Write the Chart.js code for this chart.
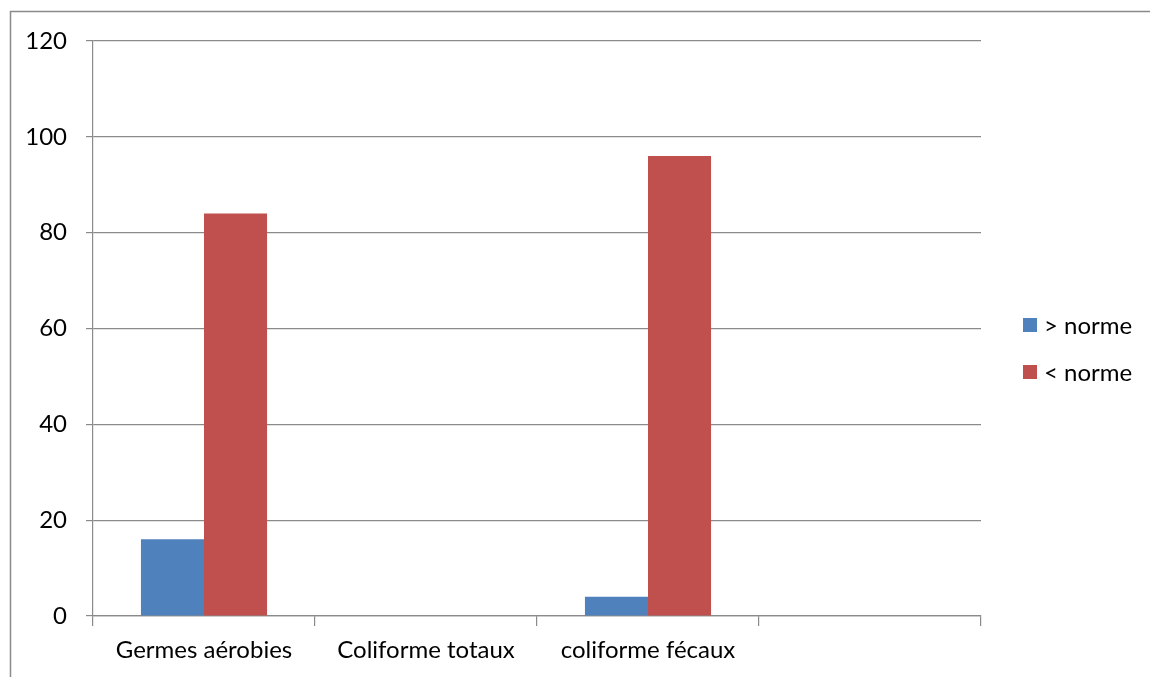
<!DOCTYPE html>
<html>
<head>
<meta charset="utf-8">
<script src="https://cdn.jsdelivr.net/npm/chart.js@4/dist/chart.umd.min.js"></script>
<style>
  html, body { margin: 0; padding: 0; background: #fff; }
  #wrap { position: relative; width: 1150px; height: 677px; overflow: hidden; }
  canvas { display: block; }
</style>
</head>
<body>
<div id="wrap"><canvas id="c" width="1150" height="677"></canvas></div>
<script>
// Categories and series
const categories = ["Germes aérobies", "Coliforme totaux", "coliforme fécaux", ""];
const aboveNorm = [16, 0, 4, null];
const belowNorm = [84, 0, 96, null];
const seriesNames = ["> norme", "< norme"];
const yTicks = [0, 20, 40, 60, 80, 100, 120];

const FONT = "Lato, 'Open Sans', sans-serif";
const GRID = "#8a8a8a";

// Outer frame and right-hand legend
const framePlugin = {
  id: "frameAndLegend",
  afterDraw(chart) {
    const ctx = chart.ctx;
    ctx.save();
    ctx.strokeStyle = GRID;
    ctx.lineWidth = 1.5;
    ctx.beginPath();
    ctx.moveTo(10.5, 700);
    ctx.lineTo(10.5, 11.5);
    ctx.lineTo(1200, 11.5);
    ctx.stroke();

    const ds = chart.data.datasets;
    ctx.font = "24px " + FONT;
    ctx.textBaseline = "middle";
    ctx.textAlign = "left";
    ds.forEach((d, i) => {
      const y = 325 + i * 47;
      ctx.fillStyle = d.backgroundColor;
      ctx.fillRect(1023, y - 7, 14, 14);
      ctx.fillStyle = "#000";
      ctx.fillText(d.label, 1044, y + 1);
    });
    ctx.restore();
  }
};

new Chart(document.getElementById("c"), {
  type: "bar",
  data: {
    labels: categories,
    datasets: [
      { label: seriesNames[0], data: aboveNorm, backgroundColor: "#4F81BD", borderWidth: 0 },
      { label: seriesNames[1], data: belowNorm, backgroundColor: "#C0504D", borderWidth: 0 }
    ]
  },
  options: {
    responsive: false,
    animation: false,
    devicePixelRatio: 1,
    layout: { padding: { left: 0, top: 41, right: 169, bottom: 0 } },
    datasets: { bar: { categoryPercentage: 0.568, barPercentage: 1 } },
    plugins: { legend: { display: false }, tooltip: { enabled: false } },
    scales: {
      x: {
        afterFit(s) { s.height = 61; },
        grid: { offset: true, drawOnChartArea: false, drawTicks: true, tickLength: 10, color: GRID, lineWidth: 1.2 },
        border: { color: GRID, width: 1.2 },
        ticks: { color: "#000", font: { family: FONT, size: 24 }, padding: 10, maxRotation: 0, autoSkip: false }
      },
      y: {
        min: 0, max: 120,
        afterFit(s) { s.width = 93; },
        afterBuildTicks(s) { s.ticks = yTicks.map(v => ({ value: v })); },
        grid: { color: GRID, lineWidth: 1.2, tickLength: 7 },
        border: { color: GRID, width: 1.2 },
        ticks: { color: "#000", font: { family: FONT, size: 24 }, padding: 19 }
      }
    }
  },
  plugins: [framePlugin]
});
</script>
</body>
</html>
